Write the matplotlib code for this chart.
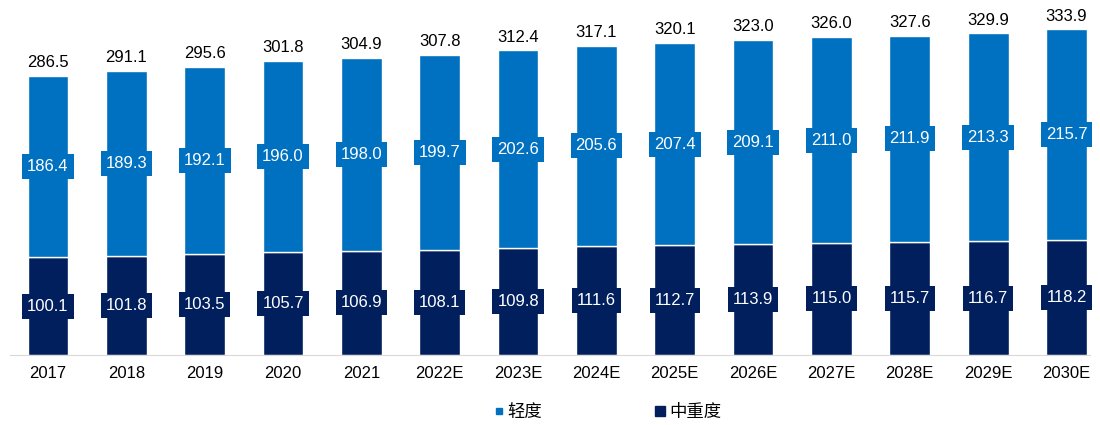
import matplotlib
matplotlib.use("Agg")
import matplotlib.pyplot as plt
from matplotlib.lines import Line2D

plt.rcParams["font.family"] = ["Liberation Sans", "Noto Sans CJK SC", "DejaVu Sans"]

years = ["2017", "2018", "2019", "2020", "2021", "2022E", "2023E", "2024E",
         "2025E", "2026E", "2027E", "2028E", "2029E", "2030E"]
severe = [100.1, 101.8, 103.5, 105.7, 106.9, 108.1, 109.8, 111.6,
          112.7, 113.9, 115.0, 115.7, 116.7, 118.2]
mild = [186.4, 189.3, 192.1, 196.0, 198.0, 199.7, 202.6, 205.6,
        207.4, 209.1, 211.0, 211.9, 213.3, 215.7]
totals = [286.5, 291.1, 295.6, 301.8, 304.9, 307.8, 312.4, 317.1,
          320.1, 323.0, 326.0, 327.6, 329.9, 333.9]

light = "#0070C0"
dark = "#001F5C"

fig = plt.figure(figsize=(11, 4.25), dpi=100)
ax = fig.add_axes([10 / 1100, 70 / 425, 1080 / 1100, 350 / 425])

x = range(len(years))
ax.bar(x, severe, width=0.52, color=dark, edgecolor="white", linewidth=1)
ax.bar(x, mild, width=0.52, bottom=severe, color=light, edgecolor="white", linewidth=1)

for i in x:
    ax.text(i, severe[i] / 2, f"{severe[i]:.1f}", ha="center", va="center",
            color="white", fontsize=12,
            bbox=dict(boxstyle="square,pad=0.3", fc=dark, ec="none"))
    ax.text(i, severe[i] + mild[i] / 2, f"{mild[i]:.1f}", ha="center", va="center",
            color="white", fontsize=12,
            bbox=dict(boxstyle="square,pad=0.3", fc=light, ec="none"))
    ax.text(i, totals[i] + 6, f"{totals[i]:.1f}", ha="center", va="bottom",
            color="black", fontsize=12)

ax.set_xlim(-0.485, 13.3)
ax.set_ylim(0, 359)
ax.set_xticks(list(x))
ax.set_xticklabels(years, fontsize=12)
ax.tick_params(axis="x", length=0, pad=8)
ax.set_yticks([])
for s in ["top", "right", "left"]:
    ax.spines[s].set_visible(False)
ax.spines["bottom"].set_color("#D9D9D9")

handles = [Line2D([], [], marker="s", linestyle="none", color=light, markersize=5),
           Line2D([], [], marker="s", linestyle="none", color=dark, markersize=7)]
fig.legend(handles, ["轻度", "中重度"], loc="center", bbox_to_anchor=(0.552, 13 / 425),
           ncol=2, frameon=False, fontsize=12.5, handlelength=0.6,
           handletextpad=0.2, columnspacing=6.5)

fig.savefig("out.png", dpi=100)
